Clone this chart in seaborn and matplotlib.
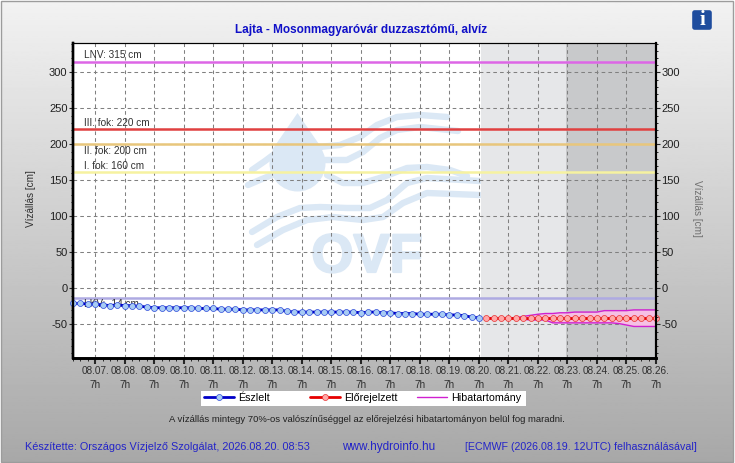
import numpy as np
import pandas as pd
import seaborn as sns
import matplotlib.pyplot as plt
import matplotlib.dates as mdates
import matplotlib.patheffects as pe
from matplotlib.patches import FancyBboxPatch, Rectangle, Circle, Polygon
from matplotlib.transforms import Affine2D
from matplotlib.ticker import MultipleLocator

# Values (cm)
observed = [-21, -21, -22, -22, -23, -24, -23, -24, -24, -25, -26, -27,
            -27, -27, -27, -27, -27, -28, -28, -28, -29, -29, -29, -30,
            -30, -30, -30, -30, -30, -32, -33, -33, -33, -33, -33, -33,
            -33, -33, -33, -34, -33, -33, -34, -34, -35, -35, -35, -36,
            -36, -36, -36, -37, -37, -38, -40, -41]
forecast = [-41] * 24
upper = [-41, -41, -41, -41, -41, -39, -37.5, -36, -35, -35, -34, -34,
         -33, -33, -33, -33, -31, -31, -31, -31, -30, -30, -30, -30]
lower = [-41, -41, -41, -41, -41, -43, -44, -44, -44, -48, -48, -48,
         -48, -48, -48, -48, -48, -48, -49, -51, -53, -53, -53, -53]
level_values = [315, 221, 200, 161, -14]
level_colors = ['#dd66e6', '#e04040', '#e8c67c', '#f6f2a0', '#aeaae2']
level_labels = ['LNV: 315 cm', 'III. fok: 220 cm', 'II. fok: 200 cm', 'I. fok: 160 cm', 'LKV: -14 cm']
level_label_y = [55, 123, 151, 166, 304]

obs_dates = pd.date_range('2026-08-06 13:00', periods=len(observed), freq='6h')
fc_dates = pd.date_range('2026-08-20 13:00', periods=len(forecast), freq='6h')
df_obs = pd.DataFrame({'date': obs_dates, 'cm': observed})
df_fc = pd.DataFrame({'date': fc_dates, 'cm': forecast, 'upper': upper, 'lower': lower})

sns.set_theme(style='ticks')
plt.rcParams['font.family'] = ['Liberation Sans', 'DejaVu Sans']
plt.rcParams['axes.unicode_minus'] = False

W, H = 735, 463
fig = plt.figure(figsize=(W / 100, H / 100), dpi=100, facecolor='white')

# Reference pixel coordinates for the page furniture
px = Affine2D().scale(1 / W, -1 / H).translate(0, 1) + fig.transFigure

# Grey page gradient
bg = fig.add_axes([0, 0, 1, 1], zorder=-1)
bg.imshow(np.linspace(242, 168, 256).reshape(-1, 1), cmap='gray', vmin=0, vmax=255,
          extent=(1, 733, 462, 1), aspect='auto')
bg.set_xlim(0, W)
bg.set_ylim(H, 0)
bg.axis('off')
bg.add_patch(Rectangle((1, 1), 732, 461, fill=False, ec='#9c9c9c', lw=1))
bg.add_patch(Rectangle((201, 391), 325, 15, fc='white', ec='none'))

ax = fig.add_axes([73 / W, 1 - 358 / H, (656 - 73) / W, (358 - 43) / H], facecolor='white')
ax.set_axisbelow(True)

# OVF watermark
wm = '#dbe8f5'
ax.add_patch(Circle((297.5, 163.5), 28, fc=wm, ec='none', transform=px, zorder=0.1))
ax.add_patch(Polygon([(297.5, 113), (272, 150), (323, 150)], fc=wm, ec='none', transform=px, zorder=0.1))
waves = [
    [(252, 170), (265, 161), (273, 155)],
    [(248, 185), (262, 179), (272, 175)],
    [(318, 147), (340, 145), (360, 137), (377, 125), (397, 117), (420, 115), (447, 117)],
    [(322, 160), (347, 160), (363, 152), (380, 138), (397, 130), (420, 127), (458, 131)],
    [(327, 175), (343, 183), (363, 183), (383, 177), (407, 168), (427, 167), (450, 170), (467, 176)],
    [(252, 232), (277, 217), (300, 208), (320, 207), (347, 208), (370, 208), (387, 200), (407, 183), (427, 178), (480, 181)],
    [(257, 245), (283, 230), (307, 220), (333, 217), (363, 220), (383, 217), (403, 203), (427, 193), (480, 195)],
]
for w in waves:
    xs, ys = zip(*w)
    ax.plot(xs, ys, color=wm, lw=4.6, transform=px, zorder=0.1, solid_capstyle='round', solid_joinstyle='round')
ax.text(367, 258, 'OVF', color=wm, fontsize=39, fontweight='bold', ha='center', va='center',
        transform=px, zorder=0.1, path_effects=[pe.withStroke(linewidth=1.6, foreground=wm)])

# Forecast periods
ax.axvspan(pd.Timestamp('2026-08-20 09:00'), pd.Timestamp('2026-08-23 06:00'), fc='#e6e7e9', ec='none', zorder=0.2)
ax.axvspan(pd.Timestamp('2026-08-23 06:00'), pd.Timestamp('2026-08-26 07:00'), fc='#c8c9cb', ec='none', zorder=0.2)

for value, color in zip(level_values, level_colors):
    ax.axhline(value, color=color, lw=1.8, zorder=1.5)
for text, y in zip(level_labels, level_label_y):
    ax.text(84, y, text, color='#303030', fontsize=7.2, va='center', transform=px, zorder=1.6)

ax.fill_between(df_fc['date'], df_fc['lower'], df_fc['upper'], color='#f6c0e4', lw=0, zorder=2)
sns.lineplot(data=df_fc, x='date', y='upper', ax=ax, color='#d020d0', lw=1, zorder=2.1, label='Hibatartomány')
sns.lineplot(data=df_fc, x='date', y='lower', ax=ax, color='#d020d0', lw=1, zorder=2.1, label='_nolegend_')
sns.lineplot(data=df_obs, x='date', y='cm', ax=ax, color='#0000c8', lw=2, marker='o', ms=4.3, mfc='#a8ccf4',
             mec='#2a48d8', mew=0.5, zorder=3, label='Észlelt', clip_on=False)
sns.lineplot(data=df_fc, x='date', y='cm', ax=ax, color='#e60000', lw=2, marker='o', ms=4.3, mfc='#ffa8a8',
             mec='#e83030', mew=0.5, zorder=3, label='Előrejelzett', clip_on=False)

ax.set_xlim(obs_dates[0], pd.Timestamp('2026-08-26 07:00'))
ax.set_ylim(-96.8, 340.7)
ax.set_xlabel('')
ax.set_ylabel('')

ax.xaxis.set_major_locator(mdates.HourLocator(byhour=[7]))
ax.xaxis.set_minor_locator(mdates.HourLocator(byhour=[1, 13, 19]))
ax.xaxis.set_major_formatter(mdates.DateFormatter('%m.%d.\n%-Hh'))
ax.yaxis.set_major_locator(MultipleLocator(50))
ax.yaxis.set_minor_locator(MultipleLocator(10))
ax.grid(True, which='major', color='#808080', ls=(0, (3.5, 3)), lw=0.75)

ax.tick_params(axis='x', which='major', length=4, width=1.5, labelsize=7.2, labelcolor='#303030', pad=2)
ax.tick_params(axis='x', which='minor', length=2.2, width=0.7)
ax.tick_params(axis='y', which='major', length=3, width=0.8, labelsize=8, labelcolor='#202020', pad=1)
ax.tick_params(axis='y', which='minor', length=1.5, width=0.7)

ax2 = ax.twinx()
ax2.set_ylim(ax.get_ylim())
ax2.yaxis.set_major_locator(MultipleLocator(50))
ax2.yaxis.set_minor_locator(MultipleLocator(10))
ax2.tick_params(axis='y', which='major', length=3, width=0.8, labelsize=8, labelcolor='#202020', pad=1)
ax2.tick_params(axis='y', which='minor', length=1.5, width=0.7)

for a in (ax, ax2):
    for side, lw in zip(['left', 'right', 'bottom', 'top'], [1.7, 1.5, 1.9, 0.8]):
        a.spines[side].set_visible(True)
        a.spines[side].set_linewidth(lw)
        a.spines[side].set_color('black')

# One small legend per entry, the gaps in the picture are not even
handles, labels = ax.get_legend_handles_labels()
ax.get_legend().remove()
legend_names = ['Észlelt', 'Előrejelzett', 'Hibatartomány']
legend_x = [204, 310, 417]
for name, lx in zip(legend_names, legend_x):
    leg = fig.legend([handles[labels.index(name)]], [name], loc='center left',
                     bbox_to_anchor=(lx / W, 1 - 398 / H), fontsize=7.7, frameon=False,
                     handlelength=2.85, handletextpad=0.35, borderpad=0, borderaxespad=0)
    for t in leg.get_texts():
        t.set_color('black')

# Texts
fig.text(361 / W, 1 - 30.5 / H, 'Lajta - Mosonmagyaróvár duzzasztómű, alvíz', color='#1010c8', fontsize=8.45,
         fontweight='bold', ha='center', va='center')
fig.text(31 / W, 1 - 199 / H, 'Vízállás [cm]', color='#303030', fontsize=7.2, rotation=90, ha='center', va='center')
fig.text(697 / W, 1 - 208 / H, 'Vízállás [cm]', color='#707070', fontsize=7.2, rotation=270, ha='center', va='center')
fig.text(367 / W, 1 - 419 / H, 'A vízállás mintegy 70%-os valószínűséggel az előrejelzési hibatartományon belül fog maradni.',
         color='#202020', fontsize=6.8, ha='center', va='center')
fig.text(25 / W, 1 - 447 / H, 'Készítette: Országos Vízjelző Szolgálat, 2026.08.20. 08:53', color='#2424c8', fontsize=7.85, va='center')
fig.text(342 / W, 1 - 447 / H, 'www.hydroinfo.hu', color='#2424c8', fontsize=8.5, va='center')
fig.text(465 / W, 1 - 447 / H, '[ECMWF (2026.08.19. 12UTC) felhasználásával]', color='#2424c8', fontsize=7.7, va='center')

# Info icon
bg.add_patch(FancyBboxPatch((693, 11), 18, 18, boxstyle='round,pad=0.8,rounding_size=2.5', fc='#1f4d9e', ec='none'))
bg.text(702, 20, 'i', color='white', fontsize=15, fontweight='bold', family='Liberation Serif', ha='center', va='center')

fig.canvas.draw()
plt.setp(ax.get_xticklabels(), linespacing=1.4)

fig.savefig('out.png', dpi=100)
